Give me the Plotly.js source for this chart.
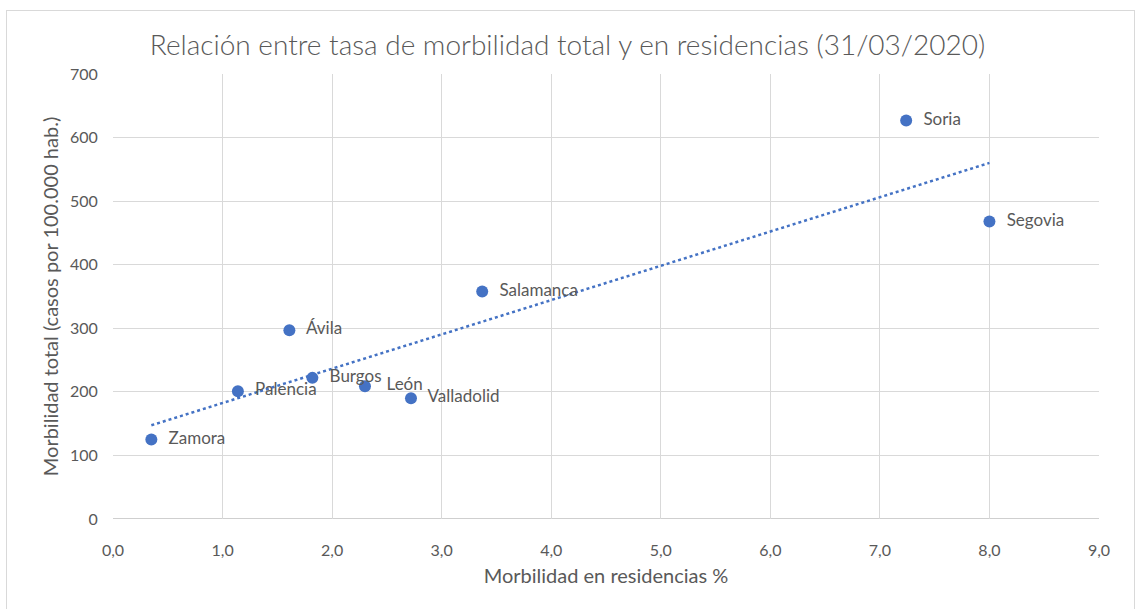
<!DOCTYPE html>
<html>
<head>
<meta charset="utf-8">
<script src="https://cdn.plot.ly/plotly-3.0.1.min.js"></script>
<style>
  html, body { margin: 0; padding: 0; background: #ffffff; }
  #frame { position: absolute; left: 6px; top: 10px; width: 1127px; height: 620px;
           border-left: 1.5px solid #d9d9d9; border-top: 1.5px solid #d9d9d9; border-right: 1.5px solid #d9d9d9; }
  #chart { position: absolute; left: 0; top: 0; width: 1135px; height: 609px; }
</style>
</head>
<body>
<div id="frame"></div>
<div id="chart"></div>
<script>
const provinces = ['Zamora', 'Palencia', 'Ávila', 'Burgos', 'León', 'Valladolid', 'Salamanca', 'Soria', 'Segovia'];
const residenceRate = [0.35, 1.14, 1.61, 1.82, 2.30, 2.72, 3.37, 7.24, 8.00];
const totalRate = [125, 201, 297, 222, 209, 190, 358, 627, 468];
const xTickVals = [0, 1, 2, 3, 4, 5, 6, 7, 8, 9];
const xTickText = ['0,0', '1,0', '2,0', '3,0', '4,0', '5,0', '6,0', '7,0', '8,0', '9,0'];

// Linear trendline (least squares), drawn between min and max x as in Excel
const n = residenceRate.length;
const mx = residenceRate.reduce((a, b) => a + b, 0) / n;
const my = totalRate.reduce((a, b) => a + b, 0) / n;
let sxy = 0, sxx = 0;
for (let i = 0; i < n; i++) {
  sxy += (residenceRate[i] - mx) * (totalRate[i] - my);
  sxx += (residenceRate[i] - mx) ** 2;
}
const slope = sxy / sxx;
const intercept = my - slope * mx;
const xMin = Math.min(...residenceRate), xMax = Math.max(...residenceRate);
const trendX = [xMin, xMax];
const trendY = trendX.map(v => intercept + slope * v);

const font = 'Lato, "Open Sans", sans-serif';

const traces = [
  {
    x: trendX, y: trendY, type: 'scatter', mode: 'lines',
    line: { color: '#4472C4', width: 2.5, dash: 'dot' },
    hoverinfo: 'skip', showlegend: false
  },
  {
    x: residenceRate, y: totalRate, text: provinces, type: 'scatter', mode: 'markers+text',
    texttemplate: provinces.map(p => p === 'León' ? '   %{text}' : '  %{text}'),
    textposition: 'middle right',
    textfont: { family: font, size: 17, color: '#595959' },
    marker: { color: '#4472C4', size: 12 },
    cliponaxis: false,
    showlegend: false
  }
];

const layout = {
  width: 1135, height: 609,
  margin: { l: 113, r: 36, t: 74, b: 90 },
  paper_bgcolor: 'rgba(0,0,0,0)',
  plot_bgcolor: 'rgba(0,0,0,0)',
  font: { family: font, color: '#595959' },
  title: {
    text: 'Relación entre tasa de morbilidad total y en residencias (31/03/2020)',
    font: { family: font, size: 28, color: '#595959', weight: 300 },
    x: 0.5, xanchor: 'center', y: 0.925, yanchor: 'middle'
  },
  xaxis: {
    range: [0, 9], tickvals: xTickVals, ticktext: xTickText,
    showgrid: true, gridcolor: '#d9d9d9', gridwidth: 1,
    zeroline: false, showline: false,
    tickfont: { family: font, size: 16, color: '#595959' },
    ticks: 'outside', ticklen: 17, tickcolor: 'rgba(0,0,0,0)', fixedrange: true,
    title: { text: 'Morbilidad en residencias %', font: { family: font, size: 20, color: '#595959' }, standoff: 10 }
  },
  yaxis: {
    range: [0, 700], dtick: 100,
    showgrid: true, gridcolor: '#d9d9d9', gridwidth: 1,
    zeroline: false, showline: false,
    tickfont: { family: font, size: 16, color: '#595959' },
    ticks: 'outside', ticklen: 11, tickcolor: 'rgba(0,0,0,0)',
    title: { text: 'Morbilidad total (casos por 100.000 hab.)', font: { family: font, size: 20, color: '#595959' }, standoff: 5 }
  },
  shapes: [
    { type: 'line', xref: 'paper', yref: 'y', x0: 0, x1: 1, y0: 0, y1: 0, line: { color: '#bfbfbf', width: 1.5 }, layer: 'below' }
  ]
};

Plotly.newPlot('chart', traces, layout, { displayModeBar: false, staticPlot: true });
</script>
</body>
</html>
